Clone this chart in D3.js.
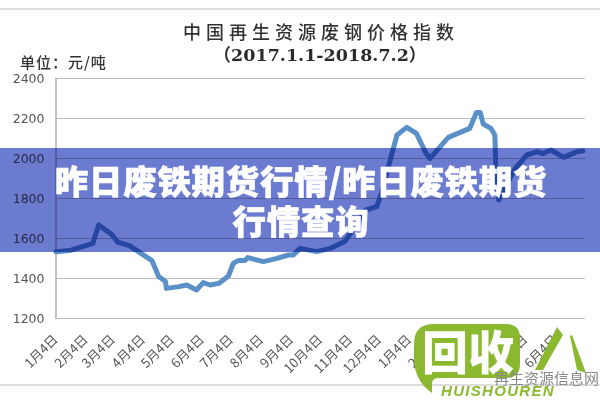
<!DOCTYPE html>
<html>
<head>
<meta charset="utf-8">
<script src="https://cdn.jsdelivr.net/npm/d3@7"></script>
<style>
    html, body { margin: 0; padding: 0; background: #fff; }
    svg { display: block; }
</style>
</head>
<body>
<svg id="chart" width="600" height="400"></svg>
<script>
// Values.
const dates = [
    "2017-01-04", "2017-01-18", "2017-02-11", "2017-02-17", "2017-03-02", "2017-03-09",
    "2017-03-21", "2017-03-30", "2017-04-13", "2017-04-20", "2017-04-27", "2017-04-28",
    "2017-05-11", "2017-05-19", "2017-05-29", "2017-06-05", "2017-06-12", "2017-06-21",
    "2017-07-01", "2017-07-06", "2017-07-11", "2017-07-18", "2017-07-21", "2017-08-06",
    "2017-08-20", "2017-09-01", "2017-09-06", "2017-09-13", "2017-09-30", "2017-10-14",
    "2017-10-29", "2017-11-05", "2017-11-20", "2017-12-01", "2017-12-06", "2017-12-15",
    "2017-12-22", "2018-01-01", "2018-01-11", "2018-01-21", "2018-01-25", "2018-02-13",
    "2018-03-07", "2018-03-14", "2018-03-18", "2018-03-21", "2018-03-29", "2018-04-02",
    "2018-04-03", "2018-04-06", "2018-04-23", "2018-05-05", "2018-05-16", "2018-05-21",
    "2018-05-30", "2018-06-12", "2018-06-26", "2018-07-02"
];
const prices = [
    1531, 1537, 1573, 1665, 1620, 1578,
    1562, 1532, 1487, 1407, 1382, 1348,
    1357, 1365, 1340, 1377, 1365, 1373,
    1410, 1473, 1487, 1487, 1502, 1482,
    1498, 1515, 1515, 1548, 1532, 1548,
    1582, 1630, 1740, 1757, 1823, 1990,
    2115, 2153, 2123, 2023, 1998, 2103,
    2148, 2227, 2227, 2170, 2148, 2115,
    1953, 1790, 1948, 2015, 2032, 2022,
    2040, 2003, 2032, 2035
];
const tickDates = [
    "2017-01-04", "2017-02-04", "2017-03-04", "2017-04-04", "2017-05-04", "2017-06-04",
    "2017-07-04", "2017-08-04", "2017-09-04", "2017-10-04", "2017-11-04", "2017-12-04",
    "2018-01-04", "2018-02-04", "2018-03-04", "2018-04-04", "2018-05-04", "2018-06-04"
];
const priceTicks = [1200, 1400, 1600, 1800, 2000, 2200, 2400];

const titleText = "中国再生资源废钢价格指数";
const subtitleText = "（2017.1.1-2018.7.2）";
const unitText = "单位：元/吨";
const bannerLines = ["昨日废铁期货行情/昨日废铁期货", "行情查询"];

// Display parameters.
const cjkFont = "'Noto Sans CJK SC', sans-serif";
const lineColour = "#5a90c8";
const gridColour = "#bdbdbd";

const svg = d3.select("#chart");
const parseDate = d3.utcParse("%Y-%m-%d");

const x = d3.scaleUtc()
    .domain([parseDate(dates[0]), parseDate(dates[dates.length - 1])])
    .range([56, 583]);
const y = d3.scaleLinear()
    .domain([1200, 2400])
    .range([318, 78]);

// Photo frame lines above and below the chart.
svg.selectAll("line.frame")
    .data([9, 385])
    .enter()
    .append("line")
    .attr("class", "frame")
    .attr("x1", 0)
    .attr("x2", 600)
    .attr("y1", d => d)
    .attr("y2", d => d)
    .attr("stroke", "#d2d2d2")
    .attr("stroke-width", 1.4);

// The chart itself is a soft screenshot, so blur it very slightly.
const chart = svg.append("g")
    .style("filter", "blur(0.35px)");

chart.append("text")
    .attr("x", 321)
    .attr("y", 39)
    .attr("text-anchor", "middle")
    .attr("font-family", cjkFont)
    .attr("font-size", 18)
    .attr("font-weight", 500)
    .attr("letter-spacing", 5)
    .attr("fill", "#333")
    .text(titleText);

chart.append("text")
    .attr("x", 320)
    .attr("y", 61)
    .attr("text-anchor", "middle")
    .attr("font-family", "'DejaVu Serif', 'Noto Sans CJK SC', serif")
    .attr("font-size", 17.5)
    .attr("font-weight", "bold")
    .attr("fill", "#2b2b2b")
    .text(subtitleText);

chart.append("text")
    .attr("x", 20)
    .attr("y", 68)
    .attr("font-family", cjkFont)
    .attr("font-size", 15)
    .attr("font-weight", 500)
    .attr("letter-spacing", 1)
    .attr("fill", "#333")
    .text(unitText);

// Horizontal grid lines and price labels.
const yAxis = chart.append("g")
    .attr("transform", "translate(55.5,0)")
    .call(d3.axisLeft(y)
        .tickValues(priceTicks)
        .tickSize(-529.5)
        .tickPadding(11)
        .tickFormat(d3.format("d")));
yAxis.select(".domain").attr("stroke", "#9a9a9a").attr("stroke-width", 1.2);
yAxis.selectAll("line").attr("stroke", gridColour).attr("stroke-width", 1.1);
yAxis.selectAll("text")
    .attr("font-family", "'DejaVu Sans', sans-serif")
    .attr("font-size", 12.5)
    .attr("fill", "#555");

// Slanted month labels under the plot.
const xAxis = chart.append("g")
    .attr("transform", "translate(0,318)")
    .call(d3.axisBottom(x)
        .tickValues(tickDates.map(parseDate))
        .tickSize(0)
        .tickFormat(d => `${d.getUTCMonth() + 1}月${d.getUTCDate()}日`));
xAxis.select(".domain").remove();
xAxis.selectAll("text")
    .attr("font-family", cjkFont)
    .attr("font-size", 13)
    .attr("fill", "#555")
    .attr("text-anchor", "end")
    .attr("transform", "translate(-1,19) rotate(-45)")
    .attr("dy", "0.35em")
    .attr("y", 0);

// Price line.
const priceLine = d3.line()
    .x((d, i) => x(parseDate(dates[i])))
    .y(d => y(d));

chart.append("path")
    .datum(prices)
    .attr("d", priceLine)
    .attr("fill", "none")
    .attr("stroke", lineColour)
    .attr("stroke-width", 5)
    .attr("stroke-linejoin", "round")
    .attr("stroke-linecap", "round");

// Banner across the middle; multiply keeps the chart visible through it.
svg.append("rect")
    .attr("x", 0)
    .attr("y", 148)
    .attr("width", 600)
    .attr("height", 104)
    .attr("fill", "#6b7bd0")
    .style("mix-blend-mode", "multiply");

svg.selectAll("text.banner")
    .data(bannerLines)
    .enter()
    .append("text")
    .attr("class", "banner")
    .attr("x", 301)
    .attr("y", (d, i) => 194 + i * 40)
    .attr("text-anchor", "middle")
    .attr("font-family", cjkFont)
    .attr("font-size", 33.5)
    .attr("font-weight", 900)
    .attr("letter-spacing", 0.7)
    .attr("fill", "#fff")
    .attr("stroke", "#fff")
    .attr("stroke-width", 0.6)
    .text(d => d);

// Watermark logo in the lower right corner.
const logoGreen = "#8ab82e";
const logo = svg.append("g");

logo.append("path")
    .attr("d", "M434,324 H506 Q520,324 520,338 V364 Q520,378 506,378 H438 Q432,378 432,384 L432,393 Q416,382 414,362 V344 Q414,324 434,324 Z")
    .attr("fill", logoGreen);

logo.append("text")
    .attr("x", 468)
    .attr("y", 369)
    .attr("text-anchor", "middle")
    .attr("font-family", cjkFont)
    .attr("font-size", 46)
    .attr("font-weight", 900)
    .attr("fill", "#fff")
    .text("回收");

logo.append("text")
    .attr("x", 441)
    .attr("y", 396)
    .attr("font-family", "'Liberation Sans', sans-serif")
    .attr("font-size", 15)
    .attr("font-weight", "bold")
    .attr("font-style", "italic")
    .attr("letter-spacing", 1.3)
    .attr("fill", logoGreen)
    .text("HUISHOUREN");

logo.append("path")
    .attr("d", "M535,370 L557,327 L563,335 L543,370 Z M570,336 L572,335 L586,373 L577,370 Z")
    .attr("fill", logoGreen);

logo.append("text")
    .attr("x", 494)
    .attr("y", 384)
    .attr("font-family", cjkFont)
    .attr("font-size", 15)
    .attr("fill", "#8a8a8a")
    .text("再生资源信息网");
</script>
</body>
</html>
